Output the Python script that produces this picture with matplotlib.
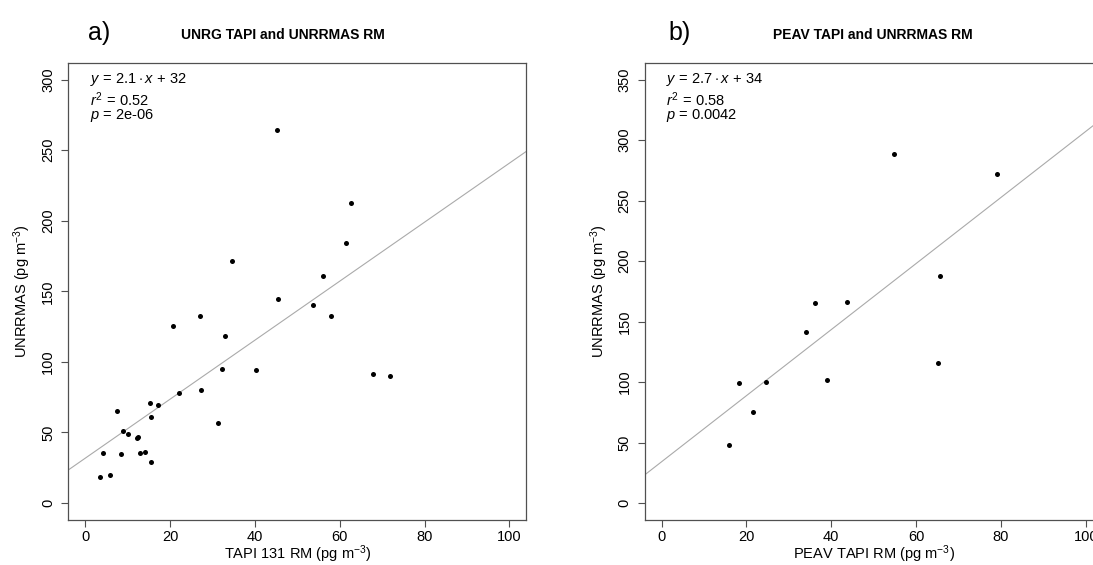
import numpy as np
import matplotlib
matplotlib.use("Agg")
import matplotlib.pyplot as plt

plt.rcParams['font.family'] = ['Liberation Sans', 'DejaVu Sans']
plt.rcParams['mathtext.fontset'] = 'custom'
plt.rcParams['mathtext.rm'] = 'Liberation Sans'
plt.rcParams['mathtext.it'] = 'Liberation Sans:italic'
plt.rcParams['mathtext.bf'] = 'Liberation Sans:bold'

# panel a: UNRG TAPI vs UNRRMAS RM
tapi_a = [45.3, 62.6, 61.6, 34.6, 56.1, 45.4, 53.8, 57.9, 20.8, 27.0, 33.0,
          32.2, 40.2, 67.9, 71.8, 22.1, 27.2, 31.3, 7.4, 15.3, 17.1, 15.5,
          8.9, 10.1, 12.4, 12.2, 4.3, 8.5, 13.0, 14.0, 15.5, 3.5, 5.8]
rm_a = [264.6, 212.7, 184.1, 171.4, 160.8, 144.5, 140.2, 132.7, 125.8, 132.2,
        118.3, 94.7, 94.2, 91.4, 90.2, 77.9, 80.3, 56.9, 65.2, 70.8, 69.6,
        60.9, 51.0, 48.6, 47.0, 46.0, 35.2, 34.7, 35.2, 36.4, 28.8, 18.4, 19.6]
fit_a = (31.8, 2.09)  # intercept, slope
stats_a = ["2.1", "32", "0.52", "2e-06"]

# panel b: PEAV TAPI vs UNRRMAS RM
tapi_b = [54.8, 79.0, 65.6, 36.1, 43.7, 34.1, 65.1, 18.3, 24.6, 39.0, 21.6, 15.9]
rm_b = [288.4, 271.9, 187.6, 165.0, 166.4, 141.0, 116.0, 98.9, 100.3, 101.7,
        75.2, 47.9]
fit_b = (34.2, 2.73)
stats_b = ["2.7", "34", "0.58", "0.0042"]

W, H = 1093, 565
fig = plt.figure(figsize=(W / 100, H / 100), dpi=100)


def panel(left_px, xs, ys, fit, stats, ymax, title, tag, xlab, title_x, tag_x):
    ax = fig.add_axes([left_px / W, (H - 520) / H, 458 / W, 457.3 / H])
    ax.scatter(xs, ys, s=13, color='black', zorder=3, linewidths=0)
    ax.axline((0, fit[0]), slope=fit[1], color='#aaaaaa', lw=0.8, zorder=2)
    ax.set_xlim(-4, 104)
    ax.set_ylim(-0.04 * ymax, 1.04 * ymax)
    ax.set_xticks(np.arange(0, 101, 20))
    ax.set_yticks(np.arange(0, ymax + 1, 50))
    for sp in ax.spines.values():
        sp.set_color('#505050')
        sp.set_linewidth(0.9)
    ax.tick_params(direction='out', length=5, width=0.8, color='#505050',
                   labelsize=10.5, pad=2.5)
    ax.tick_params(axis='y', pad=4.5)
    plt.setp(ax.get_yticklabels(), rotation=90, va='center')
    ax.set_xlabel(xlab + r' (pg m$^{-3}$)', fontsize=10.5)
    ax.set_ylabel(r'UNRRMAS (pg m$^{-3}$)', fontsize=10.5)
    ax.xaxis.set_label_coords(0.5, -0.052)
    ax.yaxis.set_label_coords(-0.076, 0.5)
    ax.text(title_x, 1.06, title, transform=ax.transAxes, ha='center',
            va='center', fontsize=10, fontweight='bold')
    ax.text(tag_x, 1.065, tag, transform=ax.transAxes, ha='left',
            va='center', fontsize=18)
    ax.text(0.047, 0.963, r'$y\,=\,%s\cdot x\,+\,%s$' % (stats[0], stats[1]),
            transform=ax.transAxes, ha='left', va='center', fontsize=10.5)
    ax.text(0.047, 0.919, r'$r^2\,=\,%s$' % stats[2],
            transform=ax.transAxes, ha='left', va='center', fontsize=10.5)
    ax.text(0.047, 0.885, r'$p$ = %s' % stats[3],
            transform=ax.transAxes, ha='left', va='center', fontsize=10.5)
    return ax


panel(68.3, tapi_a, rm_a, fit_a, stats_a, 300, 'UNRG TAPI and UNRRMAS RM',
      'a)', 'TAPI 131 RM', 0.4676, 0.043)
panel(644.7, tapi_b, rm_b, fit_b, stats_b, 350, 'PEAV TAPI and UNRRMAS RM',
      'b)', 'PEAV TAPI RM', 0.4975, 0.051)

fig.savefig('out.png', dpi=100)
